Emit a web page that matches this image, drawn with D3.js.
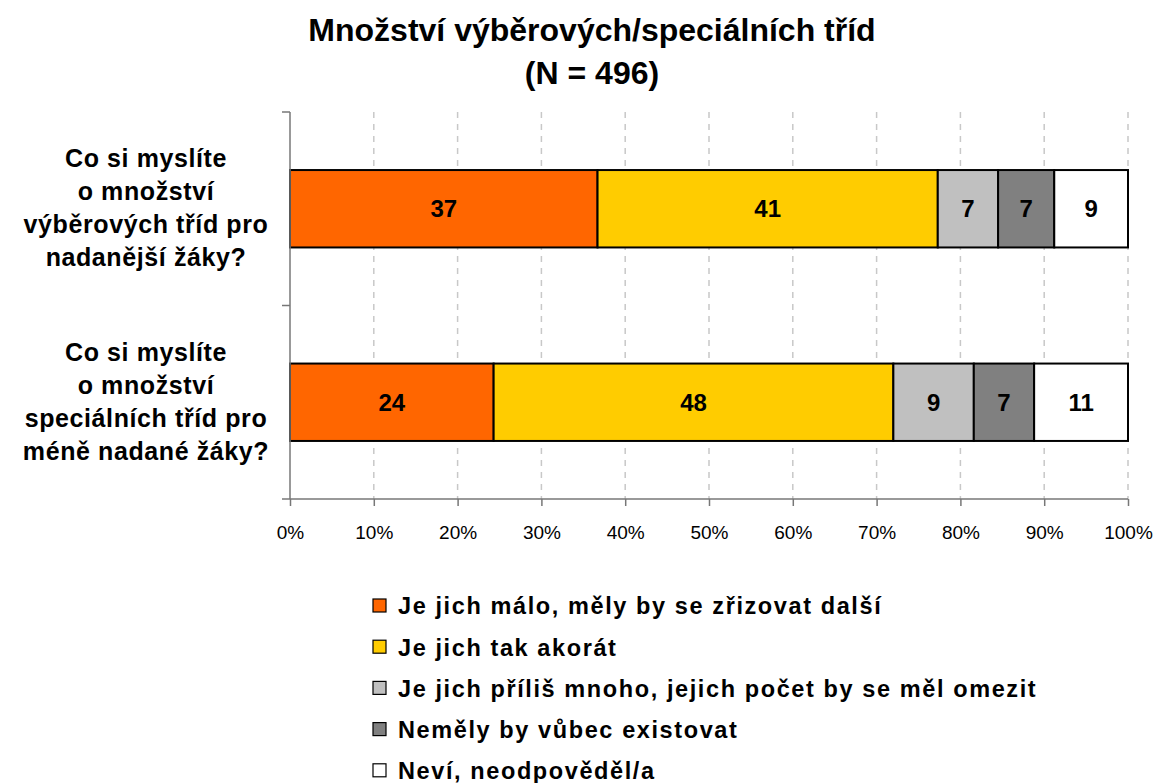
<!DOCTYPE html>
<html>
<head>
<meta charset="utf-8">
<script src="https://cdn.jsdelivr.net/npm/d3@7"></script>
<style>
  body { margin: 0; background: #fff; }
  svg { font-family: "Liberation Sans", Arial, sans-serif; }
</style>
</head>
<body>
<svg id="chart" width="1158" height="783"></svg>
<script>
// Data
const questions = [
  ["Co si myslíte", "o množství", "výběrových tříd pro", "nadanější žáky?"],
  ["Co si myslíte", "o množství", "speciálních tříd pro", "méně nadané žáky?"]
];
const answers = [
  "Je jich málo, měly by se zřizovat další",
  "Je jich tak akorát",
  "Je jich příliš mnoho, jejich počet by se měl omezit",
  "Neměly by vůbec existovat",
  "Neví, neodpověděl/a"
];
const colors = ["#FF6600", "#FFCC00", "#C0C0C0", "#808080", "#FFFFFF"];
// shares as drawn (percent) and labels shown
const shares = [
  [36.7, 40.6, 7.2, 6.7, 8.8],
  [24.3, 47.7, 9.6, 7.2, 11.2]
];
const labels = [
  [37, 41, 7, 7, 9],
  [24, 48, 9, 7, 11]
];
const xTicks = [0, 10, 20, 30, 40, 50, 60, 70, 80, 90, 100];

const svg = d3.select("#chart");
const plotLeft = 290, plotRight = 1128, plotTop = 112, plotBottom = 499;

// Title
svg.append("text")
  .attr("x", 592).attr("y", 41)
  .attr("text-anchor", "middle")
  .style("font-size", "32px").style("font-weight", "bold")
  .text("Množství výběrových/speciálních tříd");
svg.append("text")
  .attr("x", 592).attr("y", 84)
  .attr("text-anchor", "middle")
  .style("font-size", "32px").style("font-weight", "bold")
  .text("(N = 496)");

const x = d3.scaleLinear().domain([0, 100]).range([plotLeft, plotRight]);
const y = d3.scaleBand().domain(d3.range(questions.length)).range([plotTop, plotBottom]).paddingInner(0.6).paddingOuter(0.3);

// Gridlines
svg.append("g")
  .selectAll("line")
  .data(xTicks.slice(1)).enter()
  .append("line")
  .attr("x1", d => x(d)).attr("x2", d => x(d))
  .attr("y1", plotTop).attr("y2", plotBottom)
  .style("stroke", "#c8c8c8")
  .style("stroke-width", 1.5)
  .style("stroke-dasharray", "6,6");

// Bars
const rows = svg.append("g")
  .selectAll("g")
  .data(shares).enter()
  .append("g");

rows.each(function (row, i) {
  let acc = 0;
  const segs = row.map((v, j) => {
    const s = { x0: acc, x1: acc + v, c: colors[j], lab: labels[i][j] };
    acc += v;
    return s;
  });
  const g = d3.select(this);
  g.selectAll("rect")
    .data(segs).enter()
    .append("rect")
    .attr("x", d => x(d.x0))
    .attr("width", d => x(d.x1) - x(d.x0))
    .attr("y", y(i))
    .attr("height", y.bandwidth())
    .style("fill", d => d.c)
    .style("stroke", "#000")
    .style("stroke-width", 2);
  g.selectAll("text")
    .data(segs).enter()
    .append("text")
    .attr("x", d => (x(d.x0) + x(d.x1)) / 2)
    .attr("y", y(i) + y.bandwidth() / 2)
    .attr("dy", "0.36em")
    .attr("text-anchor", "middle")
    .style("font-size", "24px").style("font-weight", "bold")
    .text(d => d.lab);
});

// Axes
const xAxis = svg.append("g")
  .attr("transform", "translate(0," + plotBottom + ")")
  .call(d3.axisBottom(x).tickValues(xTicks).tickFormat(d => d + "%").tickSize(7).tickSizeOuter(0));
xAxis.select(".domain").attr("d", "M" + (plotLeft - 8) + ",0H" + plotRight).style("stroke", "#777").style("stroke-width", 1.5);
xAxis.selectAll(".tick line").style("stroke", "#777").style("stroke-width", 1.5);
xAxis.selectAll(".tick text")
  .attr("y", 33)
  .attr("dy", "0.36em")
  .style("font-size", "19px")
  .style("font-family", "Liberation Sans, Arial, sans-serif")
  .style("fill", "#000");

const yAxis = svg.append("g").attr("transform", "translate(" + plotLeft + ",0)");
yAxis.append("line")
  .attr("x1", 0).attr("x2", 0).attr("y1", plotTop).attr("y2", plotBottom)
  .style("stroke", "#777").style("stroke-width", 1.5);
yAxis.selectAll(".yt")
  .data([plotTop, (plotTop + plotBottom) / 2]).enter()
  .append("line")
  .attr("x1", -8).attr("x2", 0)
  .attr("y1", d => d).attr("y2", d => d)
  .style("stroke", "#777").style("stroke-width", 1.5);

// Category labels
questions.forEach((lines, i) => {
  const cy = y(i) + y.bandwidth() / 2;
  const t = svg.append("text")
    .attr("text-anchor", "middle")
    .style("font-size", "25px").style("font-weight", "bold")
    .style("letter-spacing", "0.6px");
  lines.forEach((ln, k) => {
    t.append("tspan")
      .attr("x", 146)
      .attr("y", cy + (k - (lines.length - 1) / 2) * 33 + 8)
      .text(ln);
  });
});

// Legend
const legend = svg.append("g")
  .selectAll("g")
  .data(answers).enter()
  .append("g")
  .attr("transform", (d, i) => "translate(373," + (606 + i * 41.2) + ")");
legend.append("rect")
  .attr("x", 0).attr("y", -7).attr("width", 13).attr("height", 13)
  .style("fill", (d, i) => colors[i])
  .style("stroke", "#000").style("stroke-width", 1.2);
legend.append("text")
  .attr("x", 25).attr("y", 0).attr("dy", "0.36em")
  .style("font-size", "23.5px").style("font-weight", "bold")
  .style("letter-spacing", "1.6px")
  .text(d => d);
</script>
</body>
</html>
